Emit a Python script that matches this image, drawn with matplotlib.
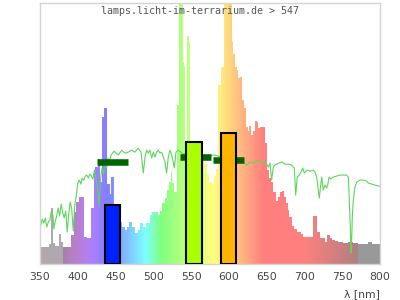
import numpy as np
import matplotlib
matplotlib.use("Agg")
import matplotlib.pyplot as plt
from matplotlib.patches import Polygon

# lamp spectrum: bin start wavelengths (nm) and relative intensity (axis top = 261)
spec_wl = [350, 362, 364, 367.5, 370, 374.5, 378, 380.5, 391, 395, 398, 402, 408, 412,
           418, 421, 423, 427, 429.5, 432, 434.7, 438.3, 442, 444.4, 447.6, 456, 459,
           462.5, 465.5, 468, 472, 475.7, 479.3, 482.3, 486.7, 490, 495.6, 498.6, 505.8,
           508.8, 512, 515.4, 518.5, 521.2, 523.4, 525.2, 527.8, 531, 534.4, 539.7, 541,
           542.4, 544, 546.8, 548.5, 564.7, 567, 571, 574, 577, 580, 583, 585, 589, 593,
           604, 606, 608, 610.3, 612.5, 614.7, 617.7, 620, 622, 625, 627, 629.3, 631.5,
           634.6, 636.8, 639, 641, 647.8, 650, 653, 655.7, 658.8, 662, 665.4, 667.6, 670,
           673, 675, 677.8, 680, 683, 686.6, 689.7, 695, 698.5, 711.7, 716.2, 720.6, 727,
           730, 734, 736, 740.4, 745, 751.4, 758, 764.6, 770.5, 784.6, 789]
spec_val = [17, 20, 56, 21, 18, 30, 22, 17, 29, 52, 62, 67, 27, 26,
            56, 93, 97, 105, 82, 147, 156, 80, 70, 87, 45, 42, 37,
            34, 37, 42, 37, 31, 34, 41, 37, 41, 49, 52, 49,
            53, 61, 66, 74, 82, 92, 81, 72, 159, 300, 202, 197,
            115, 228, 222, 110, 105, 100, 90, 82, 80, 88, 95, 179, 197, 300,
            222, 210, 197, 194, 186, 187, 164, 156, 137, 133, 138, 129, 133,
            143, 142, 136, 137, 121, 94, 86, 82, 72, 63, 67, 72, 73,
            67, 61, 54, 47, 38, 35, 32, 30, 27, 48, 32, 26, 22,
            29, 26, 24, 23, 22, 21, 22, 21, 20, 22, 20]
spec_end = 800

# reference daylight curve
sun_wl = [351, 353, 355, 357, 359, 361, 363, 365, 367, 368.5, 370, 372, 374, 376, 378, 380,
          382, 384, 386, 388, 390, 392, 394, 396, 398, 400, 402, 404, 406, 408, 410, 412,
          414, 416, 418, 420, 422, 424, 426, 428, 430, 432, 434, 436, 438, 440, 442, 444,
          446, 448, 449.3, 453.7, 458.1, 462.5, 466.9, 471.4, 475.7, 480.1, 483.7, 486.7,
          489, 491.2, 493.3, 495.6, 497.8, 500, 502.2, 504.4, 506.6, 508.8, 511, 513.2,
          515.4, 517.6, 519.8, 522, 524.3, 526.4, 527.8, 530, 533, 536, 540, 545, 550, 555,
          560, 565, 570, 575, 578, 582, 586, 590, 595, 600, 605, 610.3, 614.7, 619.1, 623.6,
          627.9, 632.3, 636.8, 641.2, 645.6, 650, 652.2, 654.4, 656.6, 658.8, 661, 665.4,
          669.9, 674.3, 678.6, 683.1, 686.6, 688.4, 690.5, 693.2, 695.4, 697.7, 699.8, 703,
          707.3, 711.7, 714, 716.2, 718.3, 719.7, 721.5, 722.8, 724.9, 727.2, 729.4, 730.8,
          732.5, 734.7, 738.2, 742.6, 747, 751.4, 755.9, 758, 758.9, 759.9, 760.7, 761.6,
          762.5, 763.4, 764.7, 766.9, 769.1, 773.5, 777.9, 782.4, 784.5, 789, 793.3, 797.7, 800]
sun_val = [39, 45, 41, 46, 37, 42, 44, 53, 49, 35, 42, 48, 56, 48, 60, 52,
           46, 53, 32, 50, 62, 55, 33, 60, 68, 81, 84, 80, 86, 84, 88, 89,
           86, 90, 88, 85, 94, 86, 78, 58, 84, 96, 90, 101, 96, 106, 102, 109,
           111, 113, 112, 109, 114, 111, 112, 114, 112, 116, 112, 91,
           107, 114, 111, 114, 106, 112, 107, 112, 114, 111, 112, 107,
           102, 91, 107, 114, 109, 102, 96, 112, 114, 112, 110, 111, 112, 110,
           109, 108, 107, 107, 109, 109, 108, 107, 106, 106, 105, 104, 101, 102, 99,
           102, 101, 104, 102, 103, 100, 97, 101, 84, 97, 99, 101,
           102, 100, 100, 99, 96, 69, 87, 89, 92, 96, 91, 94,
           93, 94, 92, 87, 74, 66, 79, 87, 74, 79, 76, 79,
           87, 85, 87, 88, 89, 89, 89, 87, 74, 52, 39, 11,
           24, 49, 64, 77, 82, 84, 84, 83, 81, 80, 79, 78, 78]

# band averages (dark green dashes) and band values (boxes)
avg_from = [426, 535, 579.5]
avg_to = [467, 576, 619.5]
avg_val = [101.7, 106.7, 103.7]

band_from = [435.5, 543.5, 589]
band_to = [456, 564.5, 610]
band_val = [58.7, 122, 131]
band_colors = ["#0022ff", "#aaff00", "#ffb400"]


def wl_color(w):
    if w < 380.5:
        return (0.69, 0.66, 0.69)
    if w >= 770.5:
        return (0.6, 0.6, 0.6)
    if w < 440:
        r, g, b = (440 - w) / 60, 0, 1
    elif w < 490:
        r, g, b = 0, (w - 440) / 50, 1
    elif w < 510:
        r, g, b = 0, 1, (510 - w) / 20
    elif w < 580:
        r, g, b = (w - 510) / 70, 1, 0
    elif w < 645:
        r, g, b = 1, (645 - w) / 65, 0
    else:
        r, g, b = 1, 0, 0
    if w < 420:
        f = 0.3 + 0.7 * (w - 380) / 40
    elif w > 700:
        f = 0.3 + 0.7 * (780 - w) / 80
    else:
        f = 1
    return tuple(0.5 + 0.5 * c * f for c in (r, g, b))


fig = plt.figure(figsize=(4, 3), dpi=100)
ax = fig.add_axes([0.1, 0.12, 0.85, 0.869])
ax.set_xlim(350, 800)
ax.set_ylim(0, 261)

grid = np.arange(350, 800, 0.25) + 0.125
img = np.array([[wl_color(w) for w in grid]])
im = ax.imshow(img, extent=(350, 800, 0, 261), aspect="auto", origin="lower",
               interpolation="nearest", zorder=1)

edges = spec_wl + [spec_end]
verts = [(edges[0], 0)]
for i, v in enumerate(spec_val):
    verts.append((edges[i], v))
    verts.append((edges[i + 1], v))
verts.append((edges[-1], 0))
clip = Polygon(verts, closed=True, transform=ax.transData)
im.set_clip_path(clip)

ax.plot(sun_wl, sun_val, color="#5cd65c", lw=0.8, zorder=2)

for a, b, v in zip(avg_from, avg_to, avg_val):
    ax.plot([a, b], [v, v], color="#006400", lw=4.7, solid_capstyle="butt", zorder=3)

ax.bar(band_from, np.array(band_val), width=np.array(band_to) - np.array(band_from),
       align="edge", color=band_colors, edgecolor="black", linewidth=1.5, zorder=4)

for s in ax.spines.values():
    s.set_color("#d4d4d4")
    s.set_linewidth(1)
ax.set_xticks(range(350, 801, 50))
ax.set_yticks([])
ax.tick_params(axis="x", length=0, pad=6, labelsize=7.8, labelcolor="#444444")

fig.text(0.5, 1 - 11 / 300, "lamps.licht-im-terrarium.de > 547", ha="center", va="center",
         family="DejaVu Sans Mono", fontsize=7.2, color="#555555")
fig.text(0.95, 1 - 294 / 300, "λ [nm]", ha="right", va="center", fontsize=7.8, color="#444444")

fig.savefig("out.png", dpi=100)
